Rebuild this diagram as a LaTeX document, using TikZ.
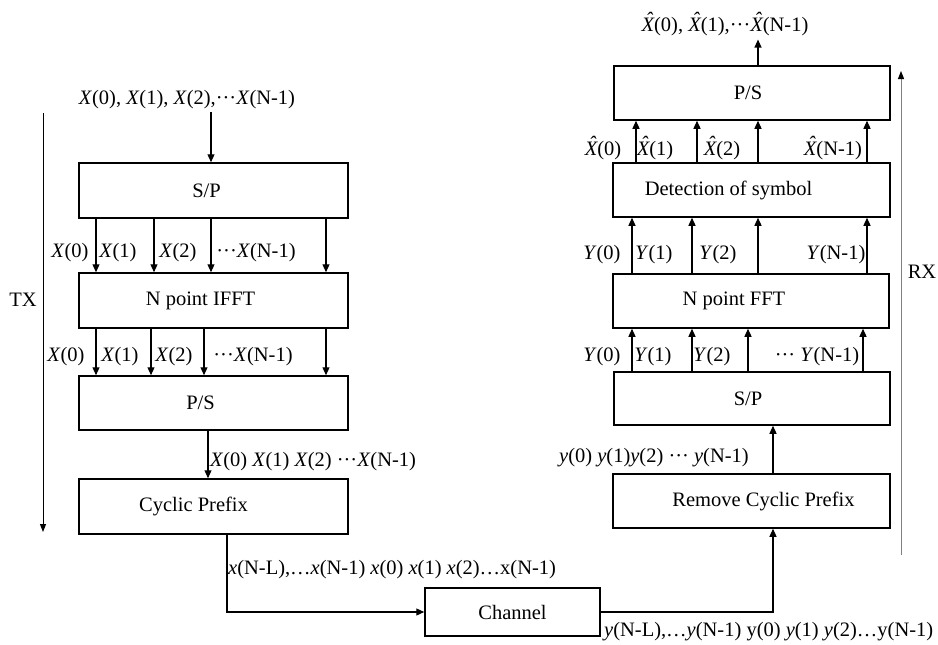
\documentclass[tikz,border=0pt]{standalone}
\usepackage{fontspec}
\setmainfont{Liberation Serif}
\usetikzlibrary{arrows.meta}
\newcommand{\mX}{\textit{X}}
\newcommand{\mY}{\textit{Y}}
\newcommand{\mx}{\textit{x}}
\newcommand{\my}{\textit{y}}
\newcommand{\hX}{\textit{\ooalign{X\cr\hidewidth\kern0.12em\raisebox{0.2em}{\char"02C6}\hidewidth\cr}}}
\newcommand{\cdt}{\textperiodcentered\textperiodcentered\textperiodcentered}
\begin{document}
\begin{tikzpicture}[x=1pt,y=-1pt,
  font=\fontsize{20.5}{24}\selectfont,
  blk/.style={draw, line width=1.5pt, inner sep=0pt},
  arr/.style={line width=1.2pt, -{Triangle[length=8pt,width=7pt]}},
  lbl/.style={inner sep=0pt},
  side/.style={line width=1pt, -{Triangle[length=8pt,width=6pt,color=black]}}]
\useasboundingbox[fill=white] (0,0) rectangle (938,645);

% column coordinates
\foreach \n/\xx in {a1/96,a2/154,a3/211,a4/326,b1/96,b2/151,b3/204,b4/326,cPS/208,cL/227,
  cR/773,d1/632,d2/692,d3/748,d4/863,e1/632,e2/692,e3/758,e4/867,f1/636,f2/697,f3/758,f4/867}
  \coordinate (\n) at (\xx,0);
\coordinate (txa) at (43,113);
\coordinate (txb) at (43,532);
\coordinate (rxa) at (901,555);
\coordinate (rxb) at (901,71);

% TX side
\node[blk, minimum width=269pt, minimum height=55pt] (sp1) at (213.5,190.5) {S/P\hspace*{14pt}};
\node[blk, minimum width=269pt, minimum height=55pt] (ifft) at (213.5,300.5) {N point IFFT\hspace*{26pt}};
\node[blk, minimum width=269pt, minimum height=54pt] (ps1) at (213.5,403) {P/S\hspace*{26pt}};
\node[blk, minimum width=269pt, minimum height=55pt] (cp) at (213.5,506.5) {Cyclic Prefix\hspace*{40pt}};
\node[blk, minimum width=175pt, minimum height=48pt] (chan) at (512.5,612) {Channel};

% RX side
\node[blk, minimum width=277pt, minimum height=54pt] (rcp) at (751.5,501) {\hspace*{24pt}Remove Cyclic Prefix};
\node[blk, minimum width=276pt, minimum height=53pt] (sp2) at (752,398.5) {S/P\hspace*{8pt}};
\node[blk, minimum width=276pt, minimum height=54pt] (fft) at (751,301) {N point FFT\hspace*{34pt}};
\node[blk, minimum width=277pt, minimum height=54pt] (det) at (751.5,190) {Detection of symbol\hspace*{46pt}};
\node[blk, minimum width=276pt, minimum height=54pt] (ps2) at (752,93) {P/S\hspace*{8pt}};

% input / output labels
\node[lbl] (in) at (187,100) {\mX(0), \mX(1), \mX(2),\cdt\mX(N-1)};
\node[lbl, anchor=base] (out) at (725,31) {\hX(0), \hX(1),\cdt\hX(N-1)};
\draw[arr] (in.south -| a3) ++(0,3) -- (sp1.north -| a3);
\draw[arr] (ps2.north -| f3) -- ([yshift=-4pt]out.south -| f3);

% S/P -> IFFT
\foreach \c in {a1,a2,a3,a4} \draw[arr] (sp1.south -| \c) -- (ifft.north -| \c);
\node[lbl] (l11) at (70,253) {\mX(0)};
\node[lbl] (l12) at (118,253) {\mX(1)};
\node[lbl] (l13) at (178,253) {\mX(2)};
\node[lbl] (l14) at (256,253) {\cdt\mX(N-1)};

% IFFT -> P/S
\foreach \c in {b1,b2,b3,b4} \draw[arr] (ifft.south -| \c) -- (ps1.north -| \c);
\node[lbl] (l21) at (66,357) {\mX(0)};
\node[lbl] (l22) at (120,357) {\mX(1)};
\node[lbl] (l23) at (174,357) {\mX(2)};
\node[lbl] (l24) at (253,357) {\cdt\mX(N-1)};

% P/S -> CP
\draw[arr] (ps1.south -| cPS) -- (cp.north -| cPS);
\node[lbl, anchor=west] (l3) at (210,462) {\mX(0) \mX(1) \mX(2) \cdt\mX(N-1)};

% CP -> channel -> RCP
\draw[arr] (cp.south -| cL) |- (chan.west);
\node[lbl, anchor=west] (l4) at (228,570) {\mx(N-L),\ldots\mx(N-1) \mx(0) \mx(1) \mx(2)\ldots x(N-1)};
\draw[arr] (chan.east) -| (rcp.south -| cR);
\node[lbl, anchor=west] (l5) at (604,632) {\my(N-L),\ldots\my(N-1) y(0) \my(1) \my(2)\ldots y(N-1)};

% RCP -> S/P
\draw[arr] (rcp.north -| cR) -- (sp2.south -| cR);
\node[lbl] (l6) at (654,458) {\my(0) \my(1)\my(2) \cdt{} \my(N-1)};

% S/P -> FFT
\foreach \c in {d1,d2,d3,d4} \draw[arr] (sp2.north -| \c) -- (fft.south -| \c);
\node[lbl] (l71) at (602,357) {\mY(0)};
\node[lbl] (l72) at (653,357) {\mY(1)};
\node[lbl] (l73) at (712,357) {\mY(2)};
\node[lbl] (l74) at (817,357) {\cdt{} \mY(N-1)};

% FFT -> detection
\foreach \c in {e1,e2,e3,e4} \draw[arr] (fft.north -| \c) -- (det.south -| \c);
\node[lbl] (l81) at (602,255) {\mY(0)};
\node[lbl] (l82) at (654,255) {\mY(1)};
\node[lbl] (l83) at (718,255) {\mY(2)};
\node[lbl] (l84) at (836,255) {\mY(N-1)};

% detection -> P/S
\foreach \c in {f1,f2,f3,f4} \draw[arr] (det.north -| \c) -- (ps2.south -| \c);
\node[lbl, anchor=base] (l91) at (603,155) {\hX(0)};
\node[lbl, anchor=base] (l92) at (655,155) {\hX(1)};
\node[lbl, anchor=base] (l93) at (722,155) {\hX(2)};
\node[lbl, anchor=base] (l94) at (833,155) {\hX(N-1)};

% TX / RX
\draw[side] (txa) -- (txb);
\node[lbl] (tx) at (23,300) {TX};
\draw[side, draw=gray] (rxa) -- (rxb);
\node[lbl] (rx) at (922,272) {RX};
\end{tikzpicture}
\end{document}
